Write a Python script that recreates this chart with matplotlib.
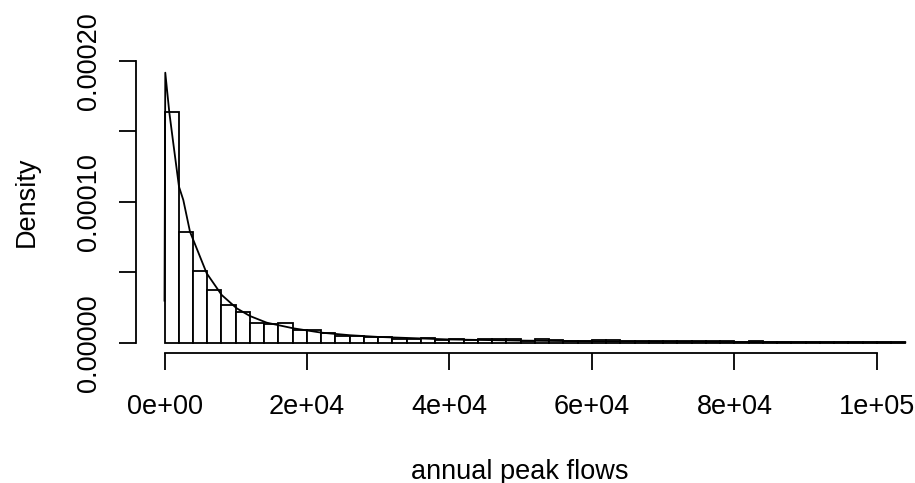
import numpy as np
import matplotlib.pyplot as plt

plt.rcParams['font.family'] = ['Liberation Sans', 'DejaVu Sans']

# histogram of annual peak flows (density scale, bins of 2000)
bin_width = 2000
density = [
    1.635e-4, 7.89e-5, 5.12e-5, 3.75e-5, 2.67e-5, 2.22e-5, 1.44e-5, 1.35e-5,
    1.40e-5, 9.2e-6, 9.0e-6, 7.4e-6, 5.1e-6, 5.0e-6, 4.5e-6, 4.3e-6,
    2.8e-6, 2.8e-6, 3.5e-6, 2.1e-6, 2.5e-6, 1.9e-6, 2.8e-6, 2.6e-6,
    2.6e-6, 1.7e-6, 2.8e-6, 2.1e-6, 1.2e-6, 1.2e-6, 1.9e-6, 1.9e-6,
    1.2e-6, 1.2e-6, 1.4e-6, 1.2e-6, 1.2e-6, 1.4e-6, 1.4e-6, 1.2e-6,
    0.9e-6, 1.5e-6, 0.8e-6, 0.8e-6, 0.8e-6, 1.0e-6, 1.0e-6, 0.8e-6,
    1.0e-6, 1.0e-6, 0.8e-6, 1.0e-6,
]

# fitted density curve
curve_x = [0, 110, 675, 1235, 2035, 2640, 3580, 5920, 8030, 10130, 12000,
           14350, 18080, 22060, 26040, 30000, 40000, 50000, 60000, 70000,
           80000, 90000, 104000]
curve_y = [3.0e-5, 1.915e-4, 1.634e-4, 1.415e-4, 1.107e-4, 1.013e-4, 7.88e-5,
           4.94e-5, 3.40e-5, 2.46e-5, 1.91e-5, 1.44e-5, 1.04e-5, 7.3e-6,
           5.5e-6, 4.3e-6, 2.5e-6, 1.7e-6, 1.2e-6, 9e-7, 7e-7, 5.5e-7, 4.2e-7]

xticks = [0, 20000, 40000, 60000, 80000, 100000]
xtick_labels = ['0e+00', '2e+04', '4e+04', '6e+04', '8e+04', '1e+05']
yticks = [0, 5e-5, 1e-4, 1.5e-4, 2e-4]
ytick_labels = ['0.00000', '', '0.00010', '', '0.00020']

W, H = 915, 483
fig = plt.figure(figsize=(W / 100, H / 100), dpi=100)
ax = fig.add_axes([136 / W, (H - 353.3) / H, (W - 136) / W, 353.3 / H])

lw = 1.3
lefts = np.arange(len(density)) * bin_width
ax.bar(lefts, density, width=bin_width, align='edge', color='white',
       edgecolor='black', linewidth=lw)
ax.plot(curve_x, curve_y, color='black', linewidth=lw)

ax.set_xlim(-4001, 105356)
ax.set_ylim(-7.30e-6, 2.430e-4)

# R-style axes: no box, axis lines only over the tick range
for s in ['top', 'right']:
    ax.spines[s].set_visible(False)
ax.spines['bottom'].set_bounds(0, 100000)
ax.spines['left'].set_bounds(0, 2e-4)
ax.spines['bottom'].set_linewidth(lw)
ax.spines['left'].set_linewidth(lw)

ax.set_xticks(xticks)
ax.set_xticklabels(xtick_labels)
ax.set_yticks(yticks)
ax.set_yticklabels(ytick_labels)
ax.tick_params(direction='out', length=12.2, width=lw, labelsize=19.5)
ax.tick_params(axis='x', pad=16.9)
ax.tick_params(axis='y', pad=12.3, labelrotation=90)
for t in ax.get_yticklabels():
    t.set_va('center')

ax.set_xlabel('annual peak flows', fontsize=19.5, va='baseline')
ax.xaxis.set_label_coords((520 - 136) / 779, (353.3 - 478.7) / 353.3)
ax.set_ylabel('Density', fontsize=19.5, va='baseline')
ax.yaxis.set_label_coords((34 - 136) / 779, (353.3 - 202) / 353.3)

fig.savefig('out.png', dpi=100)
